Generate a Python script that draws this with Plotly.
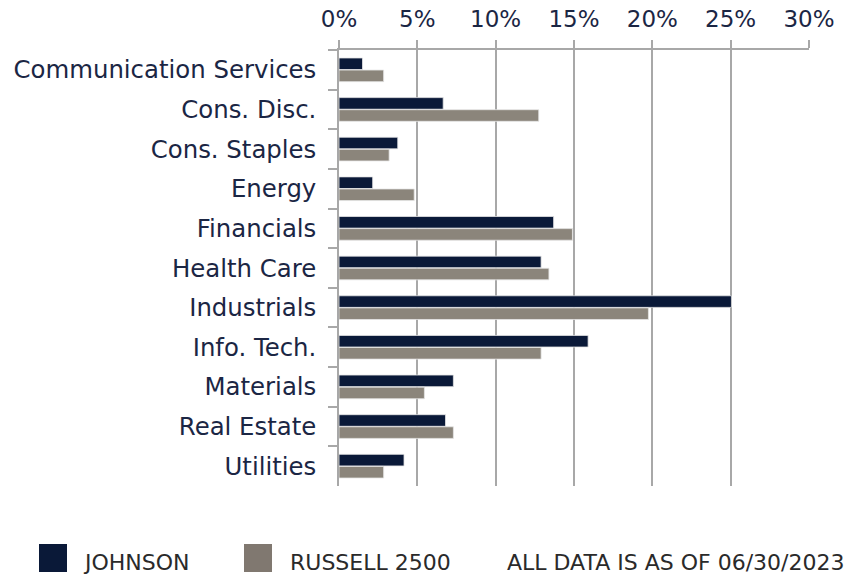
import plotly.graph_objects as go

categories = ["Communication Services", "Cons. Disc.", "Cons. Staples", "Energy",
              "Financials", "Health Care", "Industrials", "Info. Tech.",
              "Materials", "Real Estate", "Utilities"]
johnson = [1.5, 6.65, 3.75, 2.15, 13.7, 12.9, 25.05, 15.9, 7.3, 6.8, 4.15]
russell = [2.85, 12.75, 3.2, 4.8, 14.9, 13.4, 19.75, 12.9, 5.45, 7.3, 2.85]
x_ticks = [0, 5, 10, 15, 20, 25, 30]
x_tick_labels = [f"{v}%" for v in x_ticks]

NAVY = "#0a1938"
TAUPE = "#8b857b"
TXT = "#1b2644"
GRID = "#a8a8a8"
FONT = "DejaVu Sans"

W, H = 864, 575
L, R, T, B = 339, 55, 50, 89

fig = go.Figure()
fig.add_trace(go.Bar(y=categories, x=johnson, orientation="h", name="JOHNSON",
                     marker=dict(color=NAVY, line=dict(color="#e6e6e6", width=0.8))))
fig.add_trace(go.Bar(y=categories, x=russell, orientation="h", name="RUSSELL 2500",
                     marker=dict(color=TAUPE, line=dict(color="#e6e6e6", width=0.8))))

def px_x(p):
    return (p - L) / (W - L - R)

def px_y(p):
    return (H - B - p) / (H - T - B)

shapes = []
annotations = []
legend_items = [(39, NAVY, "JOHNSON", 81), (244, "#807870", "RUSSELL 2500", 288)]
LEG_FONT = dict(family="DejaVu Sans", size=22, color="#2a2a2a")
for x0, col, label, tx in legend_items:
    shapes.append(dict(type="rect", xref="paper", yref="paper",
                       x0=px_x(x0), x1=px_x(x0 + 28), y0=px_y(544), y1=px_y(572),
                       fillcolor=col, line=dict(width=0), layer="above"))
    annotations.append(dict(xref="paper", yref="paper", x=px_x(tx), y=px_y(562),
                            text=label, showarrow=False, xanchor="left", yanchor="middle",
                            font=LEG_FONT))
annotations.append(dict(xref="paper", yref="paper", x=px_x(846), y=px_y(562),
                        text="ALL DATA IS AS OF 06/30/2023", showarrow=False,
                        xanchor="right", yanchor="middle", font=LEG_FONT))

fig.update_layout(
    width=W, height=H,
    margin=dict(l=L, r=R, t=T, b=B, autoexpand=False),
    paper_bgcolor="white", plot_bgcolor="white",
    barmode="group", bargap=0.39, bargroupgap=0.04,
    showlegend=False,
    font=dict(family=FONT, color=TXT),
    shapes=shapes, annotations=annotations,
    xaxis=dict(side="top", range=[0, 30], tickvals=x_ticks, ticktext=x_tick_labels,
               showgrid=True, gridcolor=GRID, gridwidth=1.6,
               showline=True, linecolor=GRID, linewidth=1.6,
               ticks="outside", ticklen=8, tickcolor=GRID, tickwidth=1.6,
               tickfont=dict(family=FONT, size=23, color=TXT),
               ticklabelstandoff=4, zeroline=False, fixedrange=True),
    yaxis=dict(autorange="reversed", type="category", tickson="boundaries",
               showgrid=False, showline=True, linecolor=GRID, linewidth=1.6,
               ticks="outside", ticklen=9, tickcolor=GRID, tickwidth=1.6,
               tickfont=dict(family=FONT, size=24.4, color=TXT),
               ticklabelstandoff=16, fixedrange=True),
)

fig.write_html("out.html", config={"displayModeBar": False},
               post_script="document.body.style.margin='0';document.body.style.overflow='hidden';")
